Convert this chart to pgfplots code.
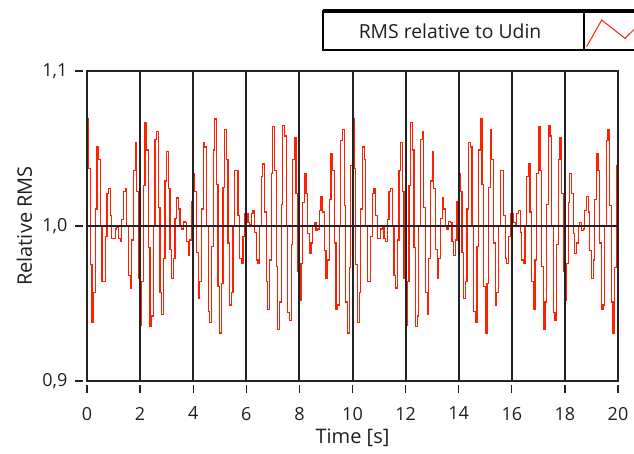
\documentclass[border=0pt]{standalone}
\usepackage{fontspec}
\setmainfont{Open Sans}
\usepackage{pgfplots}
\pgfplotsset{compat=1.18}
\definecolor{sig}{RGB}{255,32,0}
\definecolor{gridc}{RGB}{35,35,35}
\begin{document}
\begin{tikzpicture}
\path[use as bounding box] (0,0) rectangle (475.5pt,339.75pt);
\begin{axis}[
  at={(65.25pt,54pt)}, anchor=south west,
  scale only axis, width=398.25pt, height=232.5pt,
  xmin=0, xmax=20, ymin=0.9, ymax=1.1,
  xtick={0,2,...,20}, ytick={0.9,1.0,1.1},
  yticklabels={{0,9},{1,0},{1,1}},
  xtick pos=left, ytick pos=left,
  xmajorgrids, ymajorgrids,
  grid style={gridc, line width=1.5pt},
  axis line style={gridc, line width=1.5pt},
  axis on top, clip=false,
  tick align=outside, major tick length=6pt,
  xtick style={draw=none},
  ytick style={draw=none},
  /pgf/number format/assume math mode=true,
  ticklabel style={font=\fontsize{13.5}{15}\selectfont, text=black!88},
  xticklabel style={yshift=-10pt},
  yticklabel style={xshift=-5.25pt},
  xlabel={Time [s]}, ylabel={Relative RMS},
  every axis y label/.style={at={(axis description cs:-0.118,0.5)}, anchor=center, rotate=90, font=\fontsize{15}{17}\selectfont, text=black!88},
  every axis x label/.style={at={(axis description cs:0.5,-0.184)}, anchor=center, font=\fontsize{15}{17}\selectfont, text=black!88},
]
\addplot[const plot, sig, line width=0.9pt] coordinates {
(0,1.069) (0.0625,1.037) (0.125,0.975) (0.1875,0.938) (0.25,0.957) (0.3125,1.011) (0.375,1.051) (0.4375,1.043)
(0.5,1.000) (0.5625,0.964) (0.625,0.964) (0.6875,0.993) (0.75,1.021) (0.8125,1.024) (0.875,1.007) (0.9375,0.992)
(1,0.992) (1.0625,0.998) (1.125,0.999) (1.1875,0.992) (1.25,0.990) (1.3125,1.004) (1.375,1.022) (1.4375,1.024)
(1.5,1.000) (1.5625,0.968) (1.625,0.960) (1.6875,0.991) (1.75,1.036) (1.8125,1.054) (1.875,1.022) (1.9375,0.966)
(2,0.936) (2.0625,0.964) (2.125,1.026) (2.1875,1.067) (2.25,1.049) (2.3125,0.986) (2.375,0.935) (2.4375,0.942)
(2.5,1.000) (2.5625,1.056) (2.625,1.061) (2.6875,1.012) (2.75,0.957) (2.8125,0.943) (2.875,0.979) (2.9375,1.029)
(3,1.048) (3.0625,1.024) (3.125,0.985) (3.1875,0.966) (3.25,0.979) (3.3125,1.005) (3.375,1.018) (3.4375,1.011)
(3.5,1.000) (3.5625,0.998) (3.625,1.003) (3.6875,1.002) (3.75,0.990) (3.8125,0.981) (3.875,0.991) (3.9375,1.016)
(4,1.034) (4.0625,1.022) (4.125,0.983) (4.1875,0.953) (4.25,0.964) (4.3125,1.011) (4.375,1.054) (4.4375,1.051)
(4.5,1.000) (4.5625,0.945) (4.625,0.938) (4.6875,0.987) (4.75,1.049) (4.8125,1.069) (4.875,1.027) (4.9375,0.961)
(5,0.931) (5.0625,0.963) (5.125,1.025) (5.1875,1.062) (5.25,1.043) (5.3125,0.989) (5.375,0.949) (5.4375,0.957)
(5.5,1.000) (5.5625,1.036) (5.625,1.036) (5.6875,1.007) (5.75,0.979) (5.8125,0.976) (5.875,0.993) (5.9375,1.008)
(6,1.008) (6.0625,1.002) (6.125,1.001) (6.1875,1.008) (6.25,1.010) (6.3125,0.996) (6.375,0.978) (6.4375,0.976)
(6.5,1.000) (6.5625,1.032) (6.625,1.040) (6.6875,1.009) (6.75,0.964) (6.8125,0.946) (6.875,0.978) (6.9375,1.034)
(7,1.064) (7.0625,1.036) (7.125,0.974) (7.1875,0.933) (7.25,0.951) (7.3125,1.014) (7.375,1.065) (7.4375,1.058)
(7.5,1.000) (7.5625,0.944) (7.625,0.939) (7.6875,0.988) (7.75,1.043) (7.8125,1.057) (7.875,1.021) (7.9375,0.971)
(8,0.952) (8.0625,0.976) (8.125,1.015) (8.1875,1.034) (8.25,1.021) (8.3125,0.995) (8.375,0.982) (8.4375,0.989)
(8.5,1.000) (8.5625,1.002) (8.625,0.997) (8.6875,0.998) (8.75,1.010) (8.8125,1.019) (8.875,1.009) (8.9375,0.984)
(9,0.966) (9.0625,0.978) (9.125,1.017) (9.1875,1.047) (9.25,1.036) (9.3125,0.989) (9.375,0.946) (9.4375,0.949)
(9.5,1.000) (9.5625,1.055) (9.625,1.062) (9.6875,1.013) (9.75,0.951) (9.8125,0.931) (9.875,0.973) (9.9375,1.039)
(10,1.069) (10.0625,1.037) (10.125,0.975) (10.1875,0.938) (10.25,0.957) (10.3125,1.011) (10.375,1.051) (10.4375,1.043)
(10.5,1.000) (10.5625,0.964) (10.625,0.964) (10.6875,0.993) (10.75,1.021) (10.8125,1.024) (10.875,1.007) (10.9375,0.992)
(11,0.992) (11.0625,0.998) (11.125,0.999) (11.1875,0.992) (11.25,0.990) (11.3125,1.004) (11.375,1.022) (11.4375,1.024)
(11.5,1.000) (11.5625,0.968) (11.625,0.960) (11.6875,0.991) (11.75,1.036) (11.8125,1.054) (11.875,1.022) (11.9375,0.966)
(12,0.936) (12.0625,0.964) (12.125,1.026) (12.1875,1.067) (12.25,1.049) (12.3125,0.986) (12.375,0.935) (12.4375,0.942)
(12.5,1.000) (12.5625,1.056) (12.625,1.061) (12.6875,1.012) (12.75,0.957) (12.8125,0.943) (12.875,0.979) (12.9375,1.029)
(13,1.048) (13.0625,1.024) (13.125,0.985) (13.1875,0.966) (13.25,0.979) (13.3125,1.005) (13.375,1.018) (13.4375,1.011)
(13.5,1.000) (13.5625,0.998) (13.625,1.003) (13.6875,1.002) (13.75,0.990) (13.8125,0.981) (13.875,0.991) (13.9375,1.016)
(14,1.034) (14.0625,1.022) (14.125,0.983) (14.1875,0.953) (14.25,0.964) (14.3125,1.011) (14.375,1.054) (14.4375,1.051)
(14.5,1.000) (14.5625,0.945) (14.625,0.938) (14.6875,0.987) (14.75,1.049) (14.8125,1.069) (14.875,1.027) (14.9375,0.961)
(15,0.931) (15.0625,0.963) (15.125,1.025) (15.1875,1.062) (15.25,1.043) (15.3125,0.989) (15.375,0.949) (15.4375,0.957)
(15.5,1.000) (15.5625,1.036) (15.625,1.036) (15.6875,1.007) (15.75,0.979) (15.8125,0.976) (15.875,0.993) (15.9375,1.008)
(16,1.008) (16.0625,1.002) (16.125,1.001) (16.1875,1.008) (16.25,1.010) (16.3125,0.996) (16.375,0.978) (16.4375,0.976)
(16.5,1.000) (16.5625,1.032) (16.625,1.040) (16.6875,1.009) (16.75,0.964) (16.8125,0.946) (16.875,0.978) (16.9375,1.034)
(17,1.064) (17.0625,1.036) (17.125,0.974) (17.1875,0.933) (17.25,0.951) (17.3125,1.014) (17.375,1.065) (17.4375,1.058)
(17.5,1.000) (17.5625,0.944) (17.625,0.939) (17.6875,0.988) (17.75,1.043) (17.8125,1.057) (17.875,1.021) (17.9375,0.971)
(18,0.952) (18.0625,0.976) (18.125,1.015) (18.1875,1.034) (18.25,1.021) (18.3125,0.995) (18.375,0.982) (18.4375,0.989)
(18.5,1.000) (18.5625,1.002) (18.625,0.997) (18.6875,0.998) (18.75,1.010) (18.8125,1.019) (18.875,1.009) (18.9375,0.984)
(19,0.966) (19.0625,0.978) (19.125,1.017) (19.1875,1.047) (19.25,1.036) (19.3125,0.989) (19.375,0.946) (19.4375,0.949)
(19.5,1.000) (19.5625,1.055) (19.625,1.062) (19.6875,1.013) (19.75,0.951) (19.8125,0.931) (19.875,0.973) (19.9375,1.039)
(20,1.069)
};
\pgfplotsinvokeforeach{0,2,4,6,8,10,12,14,16,18,20}{
  \draw[gridc, line width=1pt] ([yshift=-3pt]axis cs:#1,0.9) -- ([yshift=-9pt]axis cs:#1,0.9);
}
\pgfplotsinvokeforeach{0.9,1.0,1.1}{
  \draw[gridc, line width=1pt] ([xshift=-3pt]axis cs:0,#1) -- ([xshift=-9pt]axis cs:0,#1);
}
\end{axis}
% legend
\draw[black, line width=1.5pt, fill=white] (242.25pt,302.25pt) rectangle (438pt,331.5pt);
\draw[black, line width=1.5pt, fill=white] (438pt,302.25pt) rectangle (482pt,331.5pt);
\draw[black, line width=2.5pt] (242.25pt,331.5pt) -- (482pt,331.5pt);
\node[font=\fontsize{14.5}{16}\selectfont, text=black!88] at (337.5pt,316.5pt) {RMS relative to Udin};
\draw[sig, line width=0.75pt] (440pt,304.75pt) -- (451.25pt,324.75pt) -- (468.75pt,311pt) -- (480pt,322pt);
\end{tikzpicture}
\end{document}
